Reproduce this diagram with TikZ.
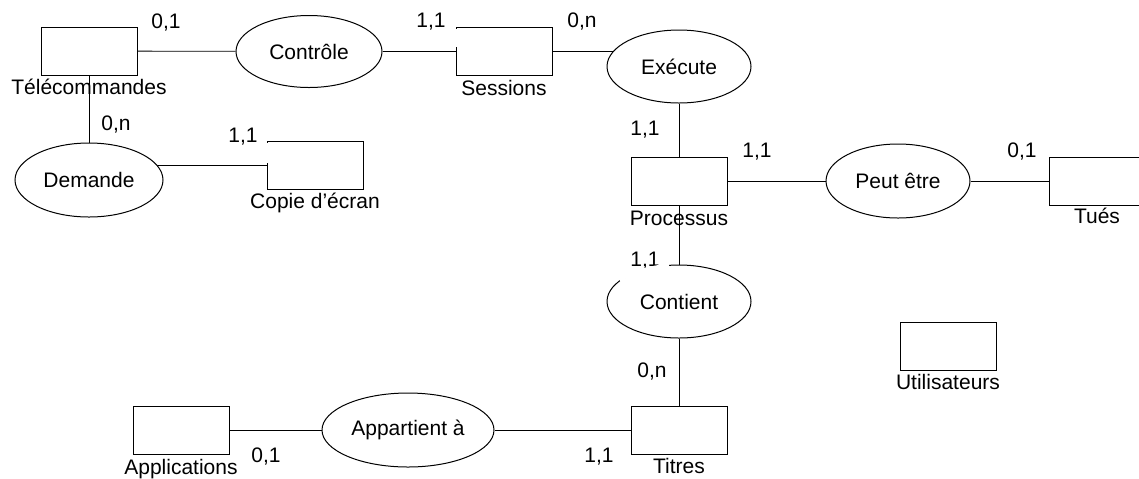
\documentclass[tikz,border=0pt]{standalone}
\usepackage{fontspec}
\setmainfont{Liberation Sans}
\usetikzlibrary{positioning, shapes.geometric, backgrounds}

\begin{document}
\begin{tikzpicture}[x=0.5pt, y=-0.5pt, font=\fontsize{10.5}{12}\selectfont, line width=0.5pt,
    entity/.style={draw, fill=white, minimum width=48pt, minimum height=24pt, inner sep=0pt},
    assoc/.style={draw, ellipse, fill=white, minimum width=72pt, minimum height=36.5pt, inner sep=0pt},
    ename/.style={anchor=base, inner sep=0pt},
    card/.style={anchor=base, inner sep=0pt}]
  \useasboundingbox (0,0) rectangle (1139,478);
  % entites
  \node[entity] (tele) at (89,51) {};
  \node[entity] (sessions) at (504,51.5) {};
  \node[entity] (copie) at (315,165) {};
  \node[entity] (processus) at (679,181) {};
  \node[entity] (tues) at (1097,181) {};
  \node[entity] (titres) at (679,430) {};
  \node[entity] (applications) at (181,430) {};
  \node[entity] (utilisateurs) at (948,346) {};
  % associations
  \node[assoc, minimum width=73pt, minimum height=36pt] (controle) at (309,51.5) {Contrôle};
  \node[assoc] (execute) at (679,66.5) {Exécute};
  \node[assoc, minimum height=37pt] (peut) at (898,181) {Peut être};
  \node[assoc, minimum width=74pt, minimum height=37pt] (demande) at (89,180) {Demande};
  \node[assoc] (contient) at (679,301.5) {Contient};
  \node[assoc, minimum width=86pt, minimum height=37pt] (appartient) at (408,430) {Appartient à};
  % noms des entites
  \node[below=9.7pt of tele.south, ename] (teleName) {Télécommandes};
  \node[below=9.5pt of sessions.south, ename] (sessionsName) {Sessions};
  \node[below=9.5pt of copie.south, ename] (copieName) {Copie d’écran};
  \node[below=10pt of processus.south, ename] (processusName) {Processus};
  \node[below=9pt of tues.south, ename] (tuesName) {Tués};
  \node[below=9.5pt of titres.south, ename] (titresName) {Titres};
  \node[below=10pt of applications.south, ename] (applicationsName) {Applications};
  \node[below=9.5pt of utilisateurs.south, ename] (utilisateursName) {Utilisateurs};
  % cardinalites
  \node[card] (cTeleCtrl) at (166,28) {0,1};
  \node[card] (cSessCtrl) at (431,27) {1,1};
  \node[card] (cSessExec) at (582,27) {0,n};
  \node[card] (cProcExec) at (645,135) {1,1};
  \node[card] (cProcPeut) at (757,157) {1,1};
  \node[card] (cTuesPeut) at (1022,157) {0,1};
  \node[card] (cTeleDem) at (116,130) {0,n};
  \node[card] (cCopieDem) at (243,142) {1,1};
  \node[card] (cProcCont) at (645,266) {1,1};
  \node[card] (cTitCont) at (652,377) {0,n};
  \node[card] (cAppliApp) at (266,462) {0,1};
  \node[card] (cTitApp) at (599,462) {1,1};
  % liens
  \begin{scope}[on background layer]
    \draw (tele) -- (controle);
    \draw (controle) -- (sessions);
    \draw (sessions) -- (sessions -| execute);
    \draw (execute) -- (processus);
    \draw (processus) -- (peut);
    \draw (peut) -- (tues);
    \draw (tele) -- (demande);
    \draw (copie) -- (copie -| demande);
    \draw (processus) -- (contient);
    \draw (contient) -- (titres);
    \draw (applications) -- (appartient);
    \draw (appartient) -- (titres);
  \end{scope}
  % traits manquants
  \draw[white, line width=1.5pt] ([yshift=-1pt]sessions.north west) -- ([yshift=-10pt]sessions.north west);
  \draw[white, line width=1.5pt] ([yshift=-1pt]copie.north west) -- ([yshift=-11pt]copie.north west);
  \draw[white, line width=1.5pt] ([shift={(98:36pt and 18.25pt)}]contient.center)
    arc[start angle=98, end angle=145, x radius=36pt, y radius=18.25pt];
\end{tikzpicture}
\end{document}
